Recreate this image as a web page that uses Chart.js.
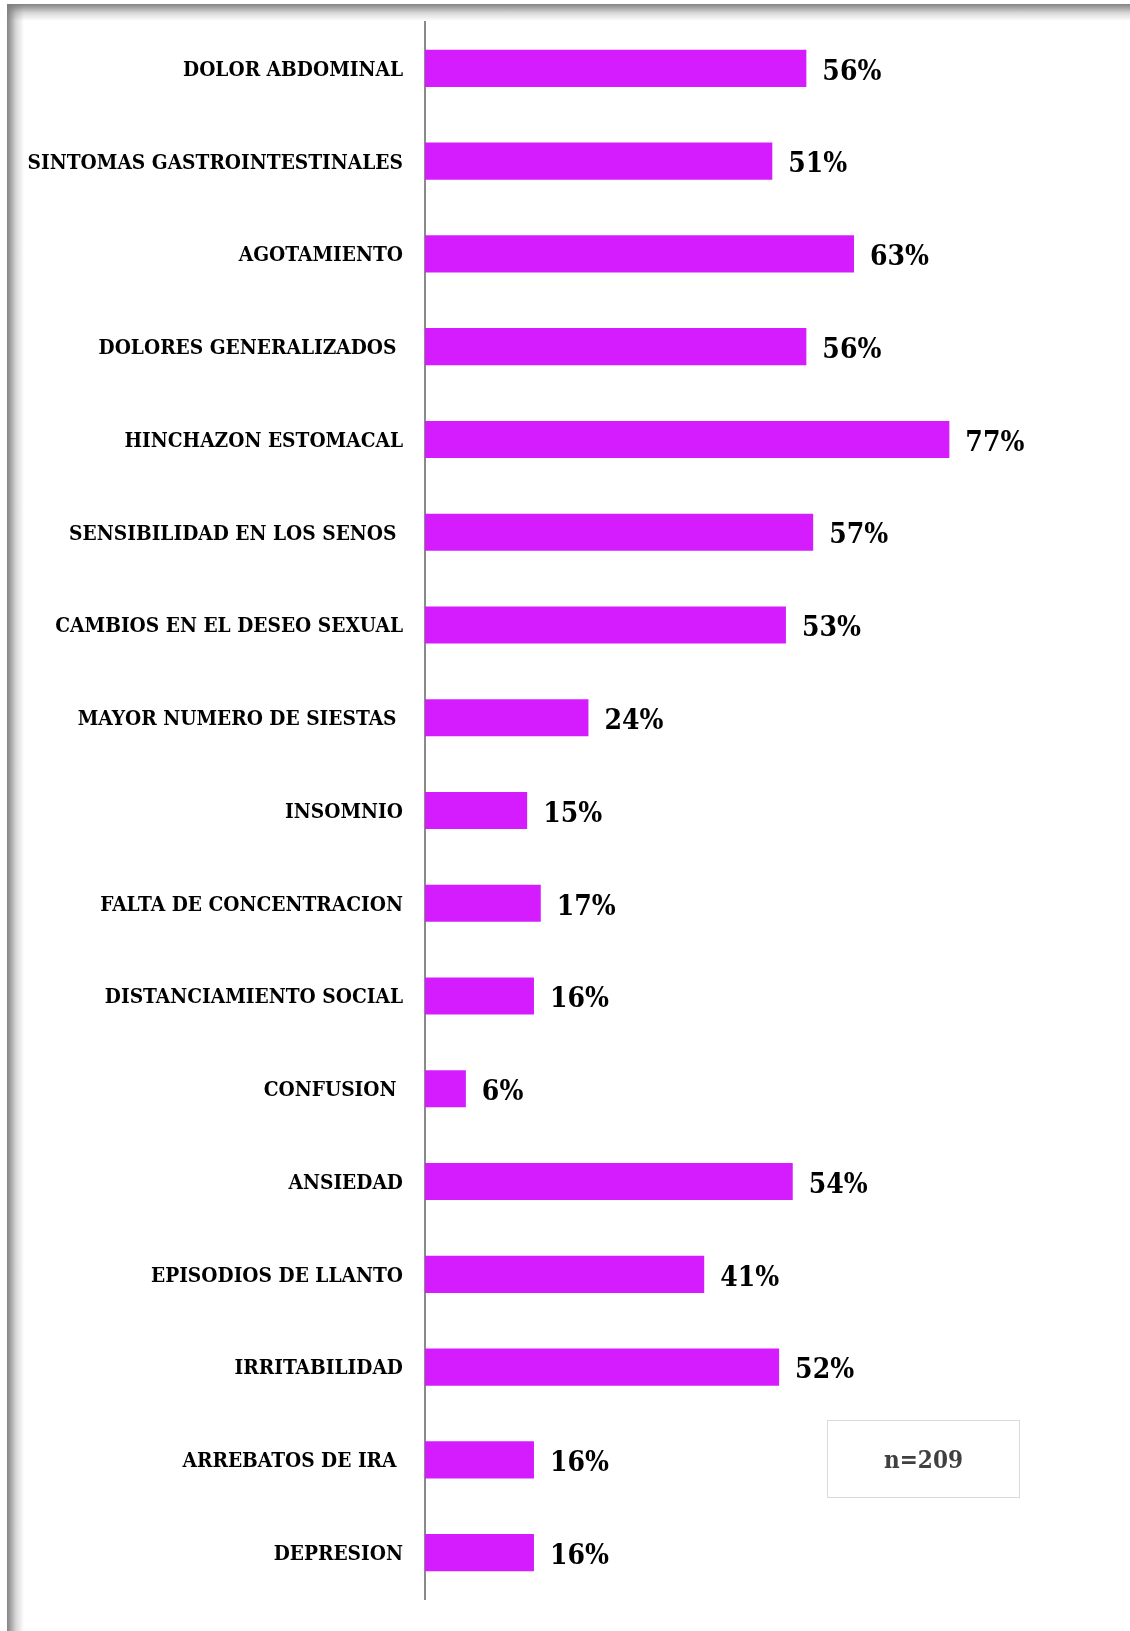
<!DOCTYPE html>
<html lang="es">
<head>
<meta charset="utf-8">
<title>Síntomas</title>
<script src="https://cdn.jsdelivr.net/npm/chart.js@4/dist/chart.umd.min.js"></script>
<style>
  html, body { margin: 0; padding: 0; background: #fff; overflow: hidden; }
  #wrap { position: relative; width: 1130px; height: 1631px; }
  .edge-top { position: absolute; left: 7px; top: 4px; right: 0; height: 18px;
    background: linear-gradient(to bottom, rgba(125,125,125,0.95) 0, rgba(125,125,125,0.75) 3px,
      rgba(125,125,125,0.3) 9px, rgba(125,125,125,0) 17px); }
  .edge-left { position: absolute; left: 7px; top: 4px; bottom: 0; width: 18px;
    background: linear-gradient(to right, rgba(125,125,125,0.95) 0, rgba(125,125,125,0.75) 3px,
      rgba(125,125,125,0.3) 9px, rgba(125,125,125,0) 17px); }
  canvas { position: absolute; left: 0; top: 0; }
  #nota { position: absolute; left: 827px; top: 1420px; width: 191px; height: 76px;
    border: 1.5px solid #dadada; box-sizing: content-box;
    font: bold 24px "DejaVu Serif Condensed", "Liberation Serif", serif; color: #404040;
    display: flex; align-items: center; justify-content: center; }
</style>
</head>
<body>
<div id="wrap">
  <div class="edge-top"></div>
  <div class="edge-left"></div>
  <canvas id="grafico" width="1130" height="1631"></canvas>
  <div id="nota">n=209</div>
</div>
<script>
  // Síntomas y porcentaje de mujeres que los reportan
  const sintomas = [
    "DOLOR ABDOMINAL",
    "SINTOMAS GASTROINTESTINALES",
    "AGOTAMIENTO",
    "DOLORES GENERALIZADOS ",
    "HINCHAZON ESTOMACAL",
    "SENSIBILIDAD EN LOS SENOS ",
    "CAMBIOS EN EL DESEO SEXUAL",
    "MAYOR NUMERO DE SIESTAS ",
    "INSOMNIO",
    "FALTA DE CONCENTRACION",
    "DISTANCIAMIENTO SOCIAL",
    "CONFUSION ",
    "ANSIEDAD",
    "EPISODIOS DE LLANTO",
    "IRRITABILIDAD",
    "ARREBATOS DE IRA ",
    "DEPRESION",
  ];
  const porcentajes = [56, 51, 63, 56, 77, 57, 53, 24, 15, 17, 16, 6, 54, 41, 52, 16, 16];

  const fuente = "'DejaVu Serif Condensed', 'Liberation Serif', serif";

  // Etiqueta con el porcentaje al final de cada barra
  const etiquetasValor = {
    id: "etiquetasValor",
    afterDatasetsDraw(chart) {
      const ctx = chart.ctx;
      const meta = chart.getDatasetMeta(0);
      ctx.save();
      ctx.font = "bold 28px " + fuente;
      ctx.fillStyle = "#000";
      ctx.textAlign = "left";
      ctx.textBaseline = "middle";
      meta.data.forEach((bar, i) => {
        ctx.fillText(porcentajes[i] + "%", bar.x + 16, bar.y + 4);
      });
      ctx.restore();
    },
  };

  const ctx = document.getElementById("grafico").getContext("2d");
  new Chart(ctx, {
    type: "bar",
    data: {
      labels: sintomas,
      datasets: [
        {
          data: porcentajes,
          backgroundColor: "#d41cff",
          borderWidth: 0,
          barPercentage: 0.4,
          categoryPercentage: 1,
        },
      ],
    },
    options: {
      indexAxis: "y",
      responsive: false,
      animation: false,
      layout: { padding: { top: 22, bottom: 32, right: 24, left: 0 } },
      plugins: { legend: { display: false }, tooltip: { enabled: false } },
      scales: {
        x: { display: false, min: 0, max: 100 },
        y: {
          afterFit(scale) {
            scale.width = 425;
            scale.paddingTop = 0;
            scale.paddingBottom = 0;
          },
          grid: { display: true, drawOnChartArea: false, drawTicks: false },
          border: { display: true, color: "#8a8a8a", width: 2 },
          ticks: {
            padding: 22,
            labelOffset: 2,
            color: "#000",
            font: { family: fuente, size: 20.7, weight: "bold" },
          },
        },
      },
    },
    plugins: [etiquetasValor],
  });
</script>
</body>
</html>
